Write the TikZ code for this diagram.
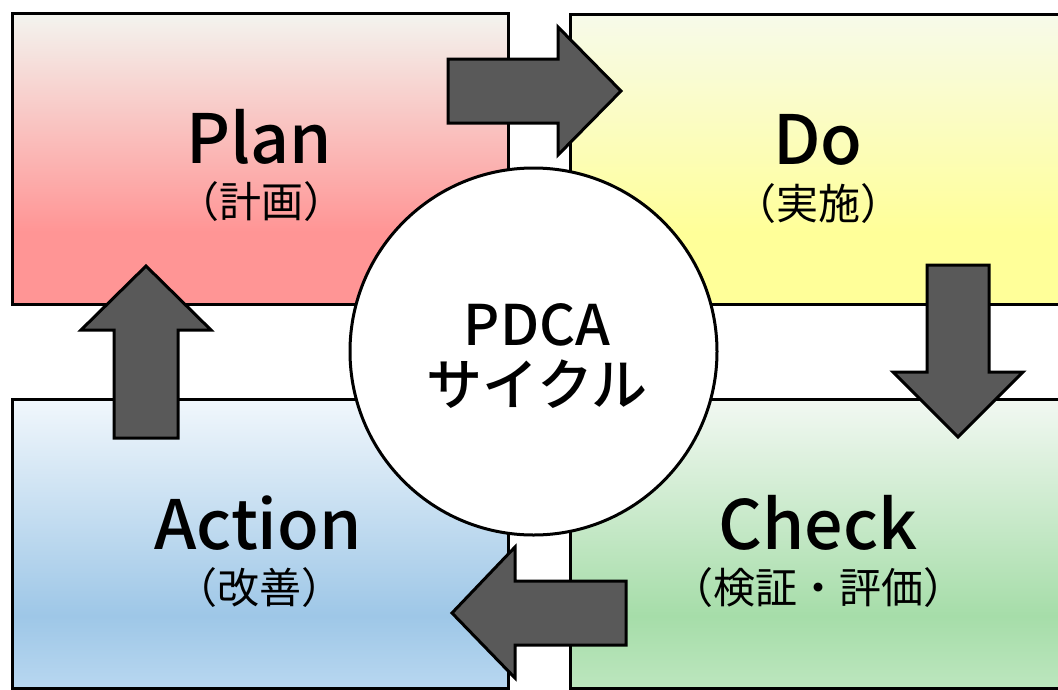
\documentclass[tikz,border=0pt]{standalone}
\usepackage{fontspec}
\setmainfont{Noto Sans CJK JP}
\newfontfamily\medfont{Noto Sans CJK JP}[UprightFont={* Medium}]
\definecolor{planT}{HTML}{F3F4EF}
\definecolor{planM}{HTML}{FF9595}
\definecolor{doT}{HTML}{F7FAEA}
\definecolor{doM}{HTML}{FFFF99}
\definecolor{chkT}{HTML}{F2F8F2}
\definecolor{chkM}{HTML}{A6DDA9}
\definecolor{chkB}{HTML}{BCE6BE}
\definecolor{actT}{HTML}{F1F7FC}
\definecolor{actM}{HTML}{9EC7E7}
\definecolor{actB}{HTML}{B8D7F0}
\definecolor{arrowgray}{HTML}{595959}
\pgfdeclareverticalshading{planshade}{100bp}{color(0bp)=(planM); color(37.5bp)=(planM); color(75bp)=(planT); color(100bp)=(planT)}
\pgfdeclareverticalshading{doshade}{100bp}{color(0bp)=(doM); color(37.5bp)=(doM); color(75bp)=(doT); color(100bp)=(doT)}
\pgfdeclareverticalshading{chkshade}{100bp}{color(0bp)=(chkB); color(25bp)=(chkB); color(37.5bp)=(chkM); color(75bp)=(chkT); color(100bp)=(chkT)}
\pgfdeclareverticalshading{actshade}{100bp}{color(0bp)=(actB); color(25bp)=(actB); color(37.5bp)=(actM); color(75bp)=(actT); color(100bp)=(actT)}
\begin{document}
\begin{tikzpicture}[x=1pt,y=-1pt,
  box/.style={draw=black, line width=3pt, shade, rectangle, inner sep=0pt, minimum width=496pt},
  mainlabel/.style={anchor=base, inner sep=0pt, font=\medfont\fontsize{68pt}{70pt}\selectfont},
  sublabel/.style={anchor=base, inner sep=0pt, font=\fontsize{42pt}{44pt}\selectfont},
  centerlabel/.style={anchor=base, inner sep=0pt, font=\medfont\fontsize{56pt}{58pt}\selectfont},
  blockarrow/.style={fill=arrowgray, draw=black, line width=3pt, line join=miter}]
\useasboundingbox (0,0) rectangle (1058,689);
\fill[white] (0,0) rectangle (1058,689);
% boxes
\node[box, shading=planshade, minimum height=291pt] (plan) at (260,158.5) {};
\node[box, shading=doshade, minimum height=290pt] (do) at (818,159) {};
\node[box, shading=actshade, minimum height=289pt] (act) at (260,543.5) {};
\node[box, shading=chkshade, minimum height=289pt] (chk) at (818,543.5) {};
% centre circle
\node[circle, draw=black, line width=3pt, fill=white, minimum size=367pt, inner sep=0pt] (cyc) at (533.5,351.5) {};
% labels
\node[mainlabel] (planlab) at (259,163) {Plan};
\node[sublabel] (plansub) at (261,217) {（計画）};
\node[mainlabel] (dolab) at (818,164) {Do};
\node[sublabel] (dosub) at (818,219) {（実施）};
\node[mainlabel] (actlab) at (258,549) {Action};
\node[sublabel] (actsub) at (259,603) {（改善）};
\node[mainlabel] (chklab) at (818,549) {Check};
\node[sublabel] (chksub) at (818,603) {（検証・評価）};
\node[centerlabel] (pdca) at (537,345) {PDCA};
\node[centerlabel] (cycle) at (537,405) {サイクル};
% block arrows
\draw[blockarrow] (448,59) -- (558,59) -- (558,27) -- (621,91) -- (558,155) -- (558,123) -- (448,123) -- cycle;
\draw[blockarrow] (927,265) -- (989,265) -- (989,372) -- (1023,372) -- (958,437) -- (893,372) -- (927,372) -- cycle;
\draw[blockarrow] (626,581) -- (626,645) -- (515,645) -- (515,678) -- (452,613) -- (515,547) -- (515,581) -- cycle;
\draw[blockarrow] (114,438) -- (114,330) -- (81,330) -- (146,266) -- (211,330) -- (178,330) -- (178,438) -- cycle;
\end{tikzpicture}
\end{document}
